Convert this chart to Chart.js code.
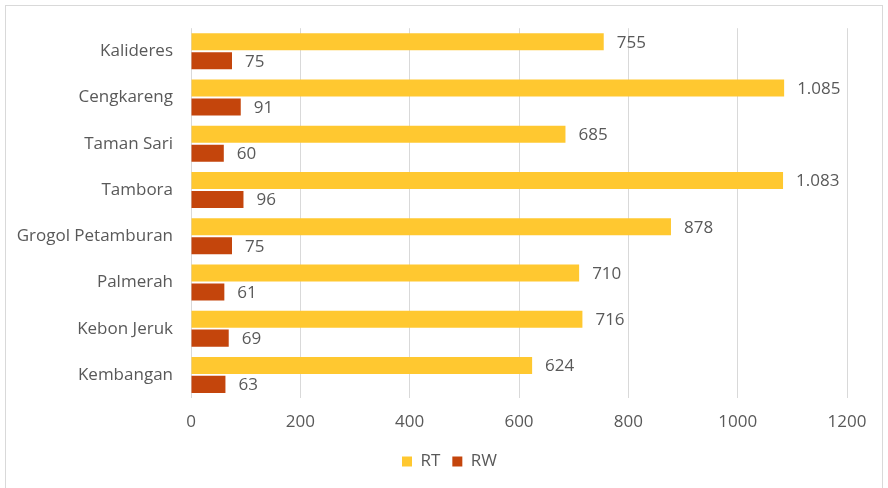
<!DOCTYPE html>
<html>
<head>
<meta charset="utf-8">
<script src="https://cdn.jsdelivr.net/npm/chart.js@4.4.1/dist/chart.umd.min.js"></script>
<style>
  html, body { margin: 0; padding: 0; background: #fff; }
  #wrap { position: relative; width: 888px; height: 488px; overflow: hidden; }
  #frame { position: absolute; left: 5px; top: 5px; width: 878px; height: 500px; border: 1px solid #d9d9d9; box-sizing: border-box; }
  canvas { position: absolute; left: 0; top: 0; }
</style>
</head>
<body>
<div id="wrap">
  <div id="frame"></div>
  <canvas id="c" width="888" height="488"></canvas>
</div>
<script>
const categories = ['Kalideres', 'Cengkareng', 'Taman Sari', 'Tambora', 'Grogol Petamburan', 'Palmerah', 'Kebon Jeruk', 'Kembangan'];
const rtValues = [755, 1085, 685, 1083, 878, 710, 716, 624];
const rwValues = [75, 91, 60, 96, 75, 61, 69, 63];
const seriesNames = ['RT', 'RW'];
const xTickValues = [0, 200, 400, 600, 800, 1000, 1200];

const FONT = '"Open Sans", "Noto Sans", sans-serif';
const TEXT = '#595959';
const FS = 17;

function fmtId(v) {
  return String(v).replace(/\B(?=(\d{3})+(?!\d))/g, '.');
}

const valueLabels = {
  id: 'valueLabels',
  afterDatasetsDraw(chart) {
    const ctx = chart.ctx;
    ctx.save();
    ctx.font = FS + 'px ' + FONT;
    ctx.fillStyle = TEXT;
    ctx.textBaseline = 'middle';
    ctx.textAlign = 'left';
    chart.data.datasets.forEach((ds, i) => {
      const meta = chart.getDatasetMeta(i);
      meta.data.forEach((bar, j) => {
        ctx.fillText(fmtId(ds.data[j]), bar.x + 13, bar.y + 1);
      });
    });
    ctx.restore();
  }
};

const legendShift = {
  id: 'legendShift',
  afterLayout(chart) {
    if (chart.legend) {
      chart.legend.left += 26;
      chart.legend.right += 26;
    }
  }
};

new Chart(document.getElementById('c'), {
  type: 'bar',
  data: {
    labels: categories,
    datasets: [
      { label: seriesNames[0], data: rtValues, backgroundColor: '#FFC830', barPercentage: 0.9, categoryPercentage: 0.82 },
      { label: seriesNames[1], data: rwValues, backgroundColor: '#C4450C', barPercentage: 0.9, categoryPercentage: 0.82 }
    ]
  },
  options: {
    indexAxis: 'y',
    responsive: false,
    animation: false,
    layout: { padding: { left: 0, right: 41, top: 28, bottom: 8 } },
    scales: {
      x: {
        min: 0, max: 1200,
        afterBuildTicks(scale) { scale.ticks = xTickValues.map(v => ({ value: v })); },
        afterFit(scale) { scale.height = 43; },
        grid: { color: '#d9d9d9', lineWidth: 1, drawTicks: false },
        border: { display: false },
        ticks: { color: TEXT, font: { family: FONT, size: FS }, padding: 14, callback: v => String(v) }
      },
      y: {
        afterFit(scale) { scale.width = 191; },
        grid: { display: false, drawTicks: false },
        border: { display: false },
        ticks: { color: TEXT, font: { family: FONT, size: FS }, padding: 18 }
      }
    },
    plugins: {
      legend: {
        position: 'bottom',
        labels: { color: TEXT, font: { family: FONT, size: FS }, boxWidth: 10, boxHeight: 10, padding: 12 }
      },
      tooltip: { enabled: false }
    }
  },
  plugins: [valueLabels, legendShift]
});
</script>
</body>
</html>
